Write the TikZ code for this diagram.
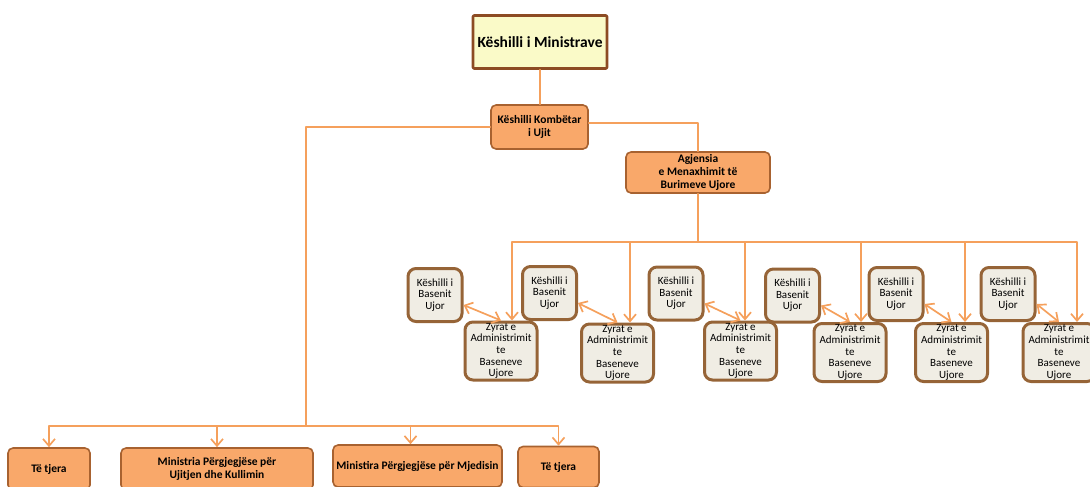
\documentclass[tikz,border=0pt]{standalone}
\usepackage{fontspec}
\setmainfont{Carlito}
\usetikzlibrary{arrows.meta}
\definecolor{lineor}{RGB}{245,160,92}
\definecolor{orfill}{RGB}{249,168,106}
\definecolor{orbrd}{RGB}{168,98,48}
\definecolor{topfill}{RGB}{250,250,200}
\definecolor{topbrd}{RGB}{140,75,35}
\definecolor{basfill}{RGB}{240,237,228}
\definecolor{basbrd}{RGB}{150,100,55}

\begin{document}
\begin{tikzpicture}
      [x=1pt,y=-1pt,line cap=round,line join=round,
       conn/.style={draw=lineor,line width=1.7pt},
       arr/.style={conn,-{Straight Barb[length=7pt,width=12pt]}},
       dbl/.style={conn,{Straight Barb[length=7pt,width=12pt]}-{Straight Barb[length=7pt,width=12pt]}},
       topbox/.style={draw=topbrd,fill=topfill,line width=2.6pt,rounded corners=1pt,
                      font=\fontsize{15.5}{18}\selectfont\bfseries,inner sep=1pt},
       orbox/.style={draw=orbrd,fill=orfill,line width=1.6pt,rounded corners=5pt,align=center,
                     font=\fontsize{11.5}{13}\selectfont\bfseries,inner sep=1pt},
       kbubox/.style={draw=basbrd,fill=basfill,line width=3pt,rounded corners=8pt,align=center,
                      font=\fontsize{11}{11.6}\selectfont,inner sep=1pt,
                      minimum width=54pt,minimum height=53pt},
       zyrbox/.style={kbubox,minimum width=72pt,minimum height=58pt}]

\useasboundingbox (0,0) rectangle (1090,487);
\clip (0,0) rectangle (1090,487);

%top of the chart
\node[topbox,minimum width=134pt,minimum height=53pt] (min) at (540,42) {Këshilli i Ministrave};
\node[orbox,minimum width=97pt,minimum height=44pt] (kku) at (539.5,127) {Këshilli Kombëtar\\i Ujit};
\node[orbox,minimum width=144pt,minimum height=41pt] (agj) at (698,172.5) {Agjensia\\e Menaxhimit të\\Burimeve Ujore};

\coordinate (lj) at (306,426);
\coordinate (rj) at (698,242);

\draw[conn] (min.south) -- (min.south |- kku.north);
\draw[conn] (kku.west) -| (lj);
\draw[conn] ([yshift=4pt]kku.east) -| (agj.north);
\draw[conn] (agj.south) -- (rj);

%basin boxes
\foreach \i/\kx/\ky/\zx/\zy/\d in {1/435/295/501/351/11, 2/549.5/293/617.5/353/12.5,
                                    3/676/293.5/740.5/351/4.5, 4/792.5/295.5/850/352.5/11,
                                    5/896/294/951.5/352.5/13.5, 6/1008/294/1059/352.5/18}
{
  \node[kbubox] (k\i) at (\kx,\ky) {Këshilli i\\Basenit\\Ujor};
  \node[zyrbox] (z\i) at (\zx,\zy) {Zyrat e\\Administrimit\\te\\Baseneve\\Ujore};
  \draw[arr] (rj) -| ([xshift=\d pt]z\i.north);
  \draw[dbl] ([yshift=-10pt]k\i.east) -- (z\i.north);
}

%bottom row
\node[orbox,minimum width=82pt,minimum height=42pt] (b1) at (49,469) {Të tjera};
\node[orbox,minimum width=192pt,minimum height=42pt] (b2) at (217,469) {Ministria Përgjegjëse për\\Ujitjen dhe Kullimin};
\node[orbox,minimum width=169pt,minimum height=42pt] (b3) at (417.5,466) {Ministira Përgjegjëse për Mjedisin};
\node[orbox,minimum width=81pt,minimum height=41pt] (b4) at (558.5,467) {Të tjera};

\draw[arr] (lj) -| (b1.north);
\draw[arr] (lj) -| (b2.north);
\draw[arr] (lj) -| ([xshift=-7pt]b3.north);
\draw[arr] (lj) -| (b4.north);

\end{tikzpicture}
\end{document}
